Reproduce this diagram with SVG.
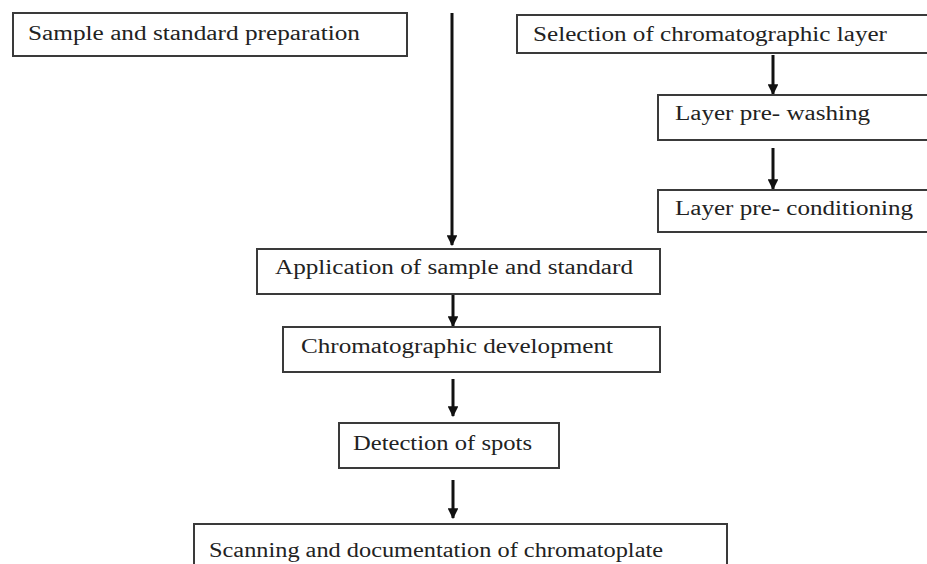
<svg xmlns="http://www.w3.org/2000/svg" width="927" height="564" viewBox="0 0 927 564">
<defs>
<marker id="ah" viewBox="0 0 10 10" refX="9" refY="5" markerWidth="3.6" markerHeight="3.6" orient="auto" markerUnits="strokeWidth">
<path d="M0,0 L10,5 L0,10 Z" fill="#111"/>
</marker>
<style>
.box{fill:#fff;stroke:#3a3a3a;stroke-width:2}
.t{font-family:"Liberation Serif","Times New Roman",serif;font-size:20px;fill:#222}
.c{stroke:#111;stroke-width:3;fill:none;marker-end:url(#ah)}
</style>
</defs>
<rect width="927" height="564" fill="#fff"/>
<g id="connectors">
<line class="c" x1="452" y1="13" x2="452" y2="245"/>
<line class="c" x1="773" y1="55" x2="773" y2="94"/>
<line class="c" x1="773" y1="148" x2="773" y2="189"/>
<line class="c" x1="453" y1="295" x2="453" y2="326"/>
<line class="c" x1="453" y1="379" x2="453" y2="416"/>
<line class="c" x1="453" y1="480" x2="453" y2="518"/>
</g>
<g id="n1"><rect class="box" x="13" y="13" width="394" height="43"/><text class="t" x="28" y="40" textLength="332" lengthAdjust="spacingAndGlyphs">Sample and standard preparation</text></g>
<g id="n2"><rect class="box" x="517" y="15" width="420" height="38"/><text class="t" x="533" y="41" textLength="354" lengthAdjust="spacingAndGlyphs">Selection of chromatographic layer</text></g>
<g id="n3"><rect class="box" x="658" y="95" width="280" height="45"/><text class="t" x="675" y="120" textLength="195" lengthAdjust="spacingAndGlyphs">Layer pre- washing</text></g>
<g id="n4"><rect class="box" x="658" y="190" width="280" height="42"/><text class="t" x="675" y="215" textLength="238" lengthAdjust="spacingAndGlyphs">Layer pre- conditioning</text></g>
<g id="n5"><rect class="box" x="257" y="249" width="403" height="45"/><text class="t" x="275" y="274" textLength="358" lengthAdjust="spacingAndGlyphs">Application of sample and standard</text></g>
<g id="n6"><rect class="box" x="283" y="327" width="377" height="45"/><text class="t" x="301" y="353" textLength="312" lengthAdjust="spacingAndGlyphs">Chromatographic development</text></g>
<g id="n7"><rect class="box" x="339" y="423" width="220" height="45"/><text class="t" x="353" y="450" textLength="179" lengthAdjust="spacingAndGlyphs">Detection of spots</text></g>
<g id="n8"><rect class="box" x="194" y="524" width="533" height="60"/><text class="t" x="209" y="557" textLength="454" lengthAdjust="spacingAndGlyphs">Scanning and documentation of chromatoplate</text></g>
</svg>
